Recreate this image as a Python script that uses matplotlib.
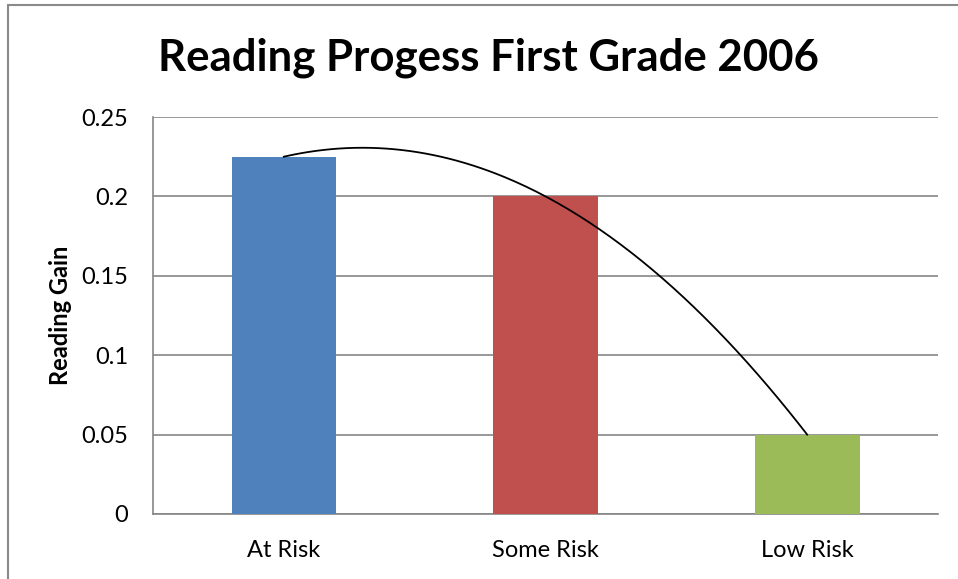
import numpy as np
import matplotlib
matplotlib.use("Agg")
import matplotlib.pyplot as plt
from matplotlib.patches import Rectangle

categories = ["At Risk", "Some Risk", "Low Risk"]
gains = [0.225, 0.2, 0.05]
bar_colors = ["#4F81BD", "#C0504D", "#9BBB59"]
yticks = [0, 0.05, 0.1, 0.15, 0.2, 0.25]
ytick_labels = ["0", "0.05", "0.1", "0.15", "0.2", "0.25"]

plt.rcParams["font.family"] = ["Lato", "DejaVu Sans"]

fig = plt.figure(figsize=(9.58, 5.79), dpi=100)
ax = fig.add_axes([153 / 958, 65 / 579, 785 / 958, 397 / 579])

x = np.arange(len(categories))
ax.bar(x, gains, width=0.4, color=bar_colors, zorder=3)

# polynomial (order 2) trendline through the bar values
coef = np.polyfit(x, gains, 2)
xs = np.linspace(x[0], x[-1], 200)
ax.plot(xs, np.polyval(coef, xs), color="black", lw=1.3, zorder=4)

ax.set_xlim(-0.5, 2.5)
ax.set_ylim(0, 0.25)
ax.set_yticks(yticks)
ax.set_yticklabels(ytick_labels)
ax.set_xticks(x)
ax.set_xticklabels(categories)
ax.tick_params(axis="both", length=0, labelsize=17, colors="black")
ax.tick_params(axis="y", pad=18)
ax.tick_params(axis="x", pad=19)
ax.yaxis.grid(True, color="#868686", lw=1.2, zorder=0)

for side in ["top", "right"]:
    ax.spines[side].set_visible(False)
for side in ["left", "bottom"]:
    ax.spines[side].set_color("#868686")
    ax.spines[side].set_linewidth(1.2)

ax.set_ylabel("Reading Gain", fontsize=17, fontweight="bold")
ax.yaxis.set_label_coords(-(153 - 72) / 785, 0.5)

fig.text(489 / 958, 1 - 58 / 579, "Reading Progess First Grade 2006",
         ha="center", va="center", fontsize=31.5, fontweight="bold")

# outer chart border
fig.patches.append(Rectangle((8 / 958, -0.05), 1.1, 1 - 5 / 579 + 0.05,
                             transform=fig.transFigure, fill=False,
                             edgecolor="#8a8a8a", lw=1.5))

fig.savefig("out.png", dpi=100)
